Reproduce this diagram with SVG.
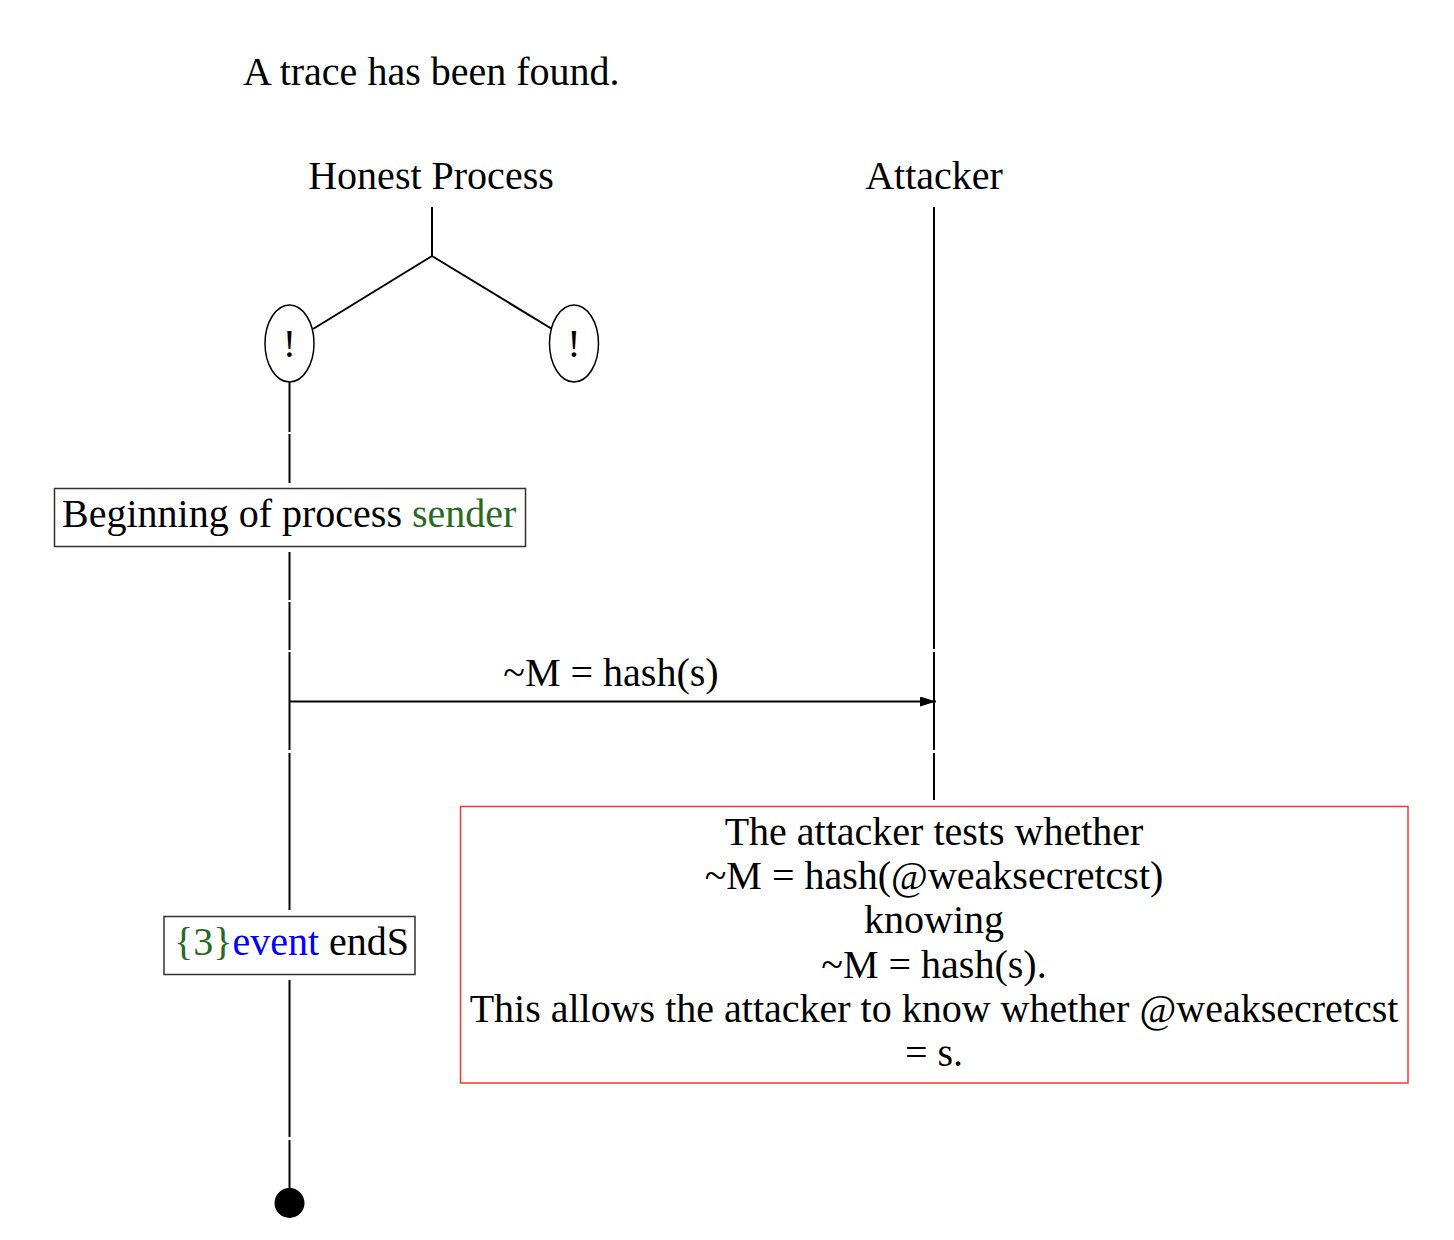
<svg xmlns="http://www.w3.org/2000/svg" width="1454" height="1240" viewBox="0 0 1454 1240">
<defs>
<style>
text{font-family:"Liberation Serif","Times New Roman",serif;font-size:40px;fill:#000}
.c{text-anchor:middle}
.ln{stroke:#000;stroke-width:2;fill:none}
.box{fill:#fff;stroke:#333;stroke-width:1.5}
.g{fill:#2a6a1e}
.b{fill:#0000ff}
</style>
<marker id="ah" viewBox="0 0 16 10" refX="16" refY="5" markerWidth="16" markerHeight="10" markerUnits="userSpaceOnUse" orient="auto">
<path d="M0,0 L16,5 L0,10 z" fill="#000"/>
</marker>
</defs>
<rect width="1454" height="1240" fill="#fff"/>
<text id="title" x="243" y="85">A trace has been found.</text>
<g id="connectors">
<line class="ln" x1="432" y1="207" x2="432" y2="256"/>
<line class="ln" x1="432" y1="256" x2="313" y2="329"/>
<line class="ln" x1="432" y1="256" x2="552" y2="329"/>
<line class="ln" x1="289.5" y1="382" x2="289.5" y2="432"/>
<line class="ln" x1="289.5" y1="434" x2="289.5" y2="483"/>
<line class="ln" x1="289.5" y1="552" x2="289.5" y2="600"/>
<line class="ln" x1="289.5" y1="602" x2="289.5" y2="650"/>
<line class="ln" x1="289.5" y1="652" x2="289.5" y2="750"/>
<line class="ln" x1="289.5" y1="753" x2="289.5" y2="910"/>
<line class="ln" x1="289.5" y1="980" x2="289.5" y2="1137"/>
<line class="ln" x1="289.5" y1="1140" x2="289.5" y2="1190"/>
<line class="ln" x1="934" y1="207" x2="934" y2="649"/>
<line class="ln" x1="934" y1="652" x2="934" y2="750"/>
<line class="ln" x1="934" y1="753" x2="934" y2="800"/>
<line class="ln" x1="289.5" y1="701.5" x2="936" y2="701.5" marker-end="url(#ah)"/>
<text class="c" x="611" y="686">~M = hash(s)</text>
</g>
<g id="honest"><text class="c" x="431" y="189">Honest Process</text></g>
<g id="attacker"><text class="c" x="934" y="189">Attacker</text></g>
<g id="bang1"><ellipse cx="289.5" cy="343.5" rx="24.5" ry="38.5" fill="#fff" stroke="#000" stroke-width="1.5"/><text class="c" x="289.5" y="357">!</text></g>
<g id="bang2"><ellipse cx="574" cy="343.5" rx="24.5" ry="38.5" fill="#fff" stroke="#000" stroke-width="1.5"/><text class="c" x="574" y="357">!</text></g>
<g id="begin"><rect class="box" x="54.5" y="488.5" width="471" height="58"/><text x="62" y="527">Beginning of process <tspan class="g">sender</tspan></text></g>
<g id="event"><rect class="box" x="164" y="916.5" width="251" height="58"/><text x="174" y="955"><tspan class="g">{3}</tspan><tspan class="b">event</tspan> endS</text></g>
<g id="attack"><rect x="460.5" y="806.5" width="947.5" height="276.5" fill="#fff" stroke="#f03c32" stroke-width="1.5"/>
<text class="c" x="934" y="845">The attacker tests whether</text>
<text class="c" x="934" y="889">~M = hash(@weaksecretcst)</text>
<text class="c" x="934" y="933">knowing</text>
<text class="c" x="934" y="978">~M = hash(s).</text>
<text class="c" x="934" y="1022">This allows the attacker to know whether @weaksecretcst</text>
<text class="c" x="934" y="1066">= s.</text>
</g>
<g id="end"><circle cx="289.5" cy="1203" r="15" fill="#000"/></g>
</svg>
